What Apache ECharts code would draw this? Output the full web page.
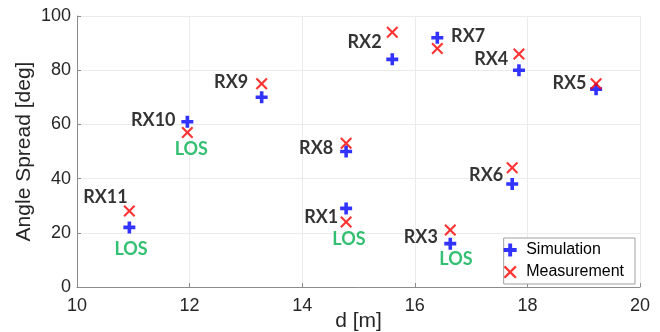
<!DOCTYPE html>
<html>
<head>
<meta charset="utf-8">
<script src="https://cdn.jsdelivr.net/npm/echarts@6/dist/echarts.min.js"></script>
<style>
html,body{margin:0;padding:0;background:#fff;}
#chart{width:660px;height:332px;}
</style>
</head>
<body>
<div id="chart"></div>
<script>
// ---- data ----
const receivers   = ['RX1','RX2','RX3','RX4','RX5','RX6','RX7','RX8','RX9','RX10','RX11'];
const distance    = [14.78, 15.6, 16.63, 17.85, 19.22, 17.73, 16.4, 14.78, 13.28, 11.96, 10.93];
const simulation  = [29, 84, 16, 80, 73, 38, 92, 50, 70, 61, 22];
const measurement = [24, 94, 21, 86, 75, 44, 88, 53, 75, 57, 28];
// text annotation anchors (data units): right edge / vertical centre of each RX label
const rxLabelX = [14.64, 15.41, 16.41, 17.66, 19.05, 17.57, 17.25, 14.55, 13.04, 11.75, 10.90];
const rxLabelY = [25.8, 90.5, 18.4, 83.9, 75.3, 41.4, 92.4, 51.4, 75.4, 61.6, 33.3];
// LOS annotations (centre, data units)
const losLabel = ['LOS','LOS','LOS','LOS'];
const losX = [14.83, 16.73, 12.03, 10.96];
const losY = [17.6, 10.3, 50.7, 13.9];
const xTicks = [10, 12, 14, 16, 18, 20];
const yTicks = [0, 20, 40, 60, 80, 100];

const PLUS = 'path://M4.2,0H7.8V4.2H12V7.8H7.8V12H4.2V7.8H0V4.2H4.2Z';
const CROSS = 'path://M0,1.5L1.5,0L6,4.5L10.5,0L12,1.5L7.5,6L12,10.5L10.5,12L6,7.5L1.5,12L0,10.5L4.5,6Z';

const chart = echarts.init(document.getElementById('chart'));
const axisFont = {fontFamily:'Liberation Sans', fontSize:18, color:'#262626'};
const labelFont = {fontFamily:'Lato', fontWeight:'bold', fontSize:18};

chart.setOption({
  animation:false,
  backgroundColor:'#fff',
  grid:{left:77, right:20, top:16, bottom:45, containLabel:false, outerBoundsMode:'none'},
  legend:{
    data:[{name:'Simulation', icon:PLUS},{name:'Measurement', icon:CROSS}],
    orient:'vertical', right:25, bottom:48,
    itemWidth:22, itemHeight:13, itemGap:6,
    padding:[4,11,4,0],
    backgroundColor:'#fff', borderColor:'#a0a0a0', borderWidth:1, borderRadius:0,
    textStyle:{fontFamily:'Liberation Sans', fontSize:16, color:'#000'}
  },
  xAxis:{
    type:'value', min:xTicks[0], max:xTicks[xTicks.length-1], interval:2,
    name:'d [m]', nameLocation:'middle', nameGap:24, nameMoveOverlap:false,
    nameTextStyle:{fontFamily:'Liberation Sans', fontSize:21, color:'#262626'},
    axisLine:{show:true, onZero:false, lineStyle:{color:'#8c8c8c', width:1}},
    axisTick:{show:true, inside:true, length:4, lineStyle:{color:'#8c8c8c'}},
    axisLabel:Object.assign({margin:10}, axisFont),
    splitLine:{show:true, lineStyle:{color:'#ebebeb', width:1}}
  },
  yAxis:{
    type:'value', min:yTicks[0], max:yTicks[yTicks.length-1], interval:20,
    name:'Angle Spread [deg]', nameLocation:'middle', nameGap:42, nameMoveOverlap:false,
    nameTextStyle:{fontFamily:'Liberation Sans', fontSize:21, color:'#262626'},
    axisLine:{show:true, onZero:false, lineStyle:{color:'#8c8c8c', width:1}},
    axisTick:{show:true, inside:true, length:4, lineStyle:{color:'#8c8c8c'}},
    axisLabel:Object.assign({margin:6}, axisFont),
    splitLine:{show:true, lineStyle:{color:'#ebebeb', width:1}}
  },
  series:[
    {
      name:'Simulation', type:'scatter', symbol:PLUS, symbolSize:12,
      itemStyle:{color:'#0000ff'}, z:3,
      data:distance.map((d,i)=>[d, simulation[i]])
    },
    {
      name:'Measurement', type:'scatter', symbol:CROSS, symbolSize:12,
      itemStyle:{color:'#ff0000'}, z:4,
      data:distance.map((d,i)=>[d, measurement[i]])
    },
    {
      name:'rxLabels', type:'scatter', symbol:'circle', symbolSize:1, silent:true,
      itemStyle:{color:'rgba(0,0,0,0)'}, z:5,
      label:Object.assign({show:true, position:'inside', align:'right', verticalAlign:'middle', color:'#000',
        formatter:p=>p.name}, labelFont),
      data:receivers.map((r,i)=>({name:r, value:[rxLabelX[i], rxLabelY[i]]}))
    },
    {
      name:'losLabels', type:'scatter', symbol:'circle', symbolSize:1, silent:true,
      itemStyle:{color:'rgba(0,0,0,0)'}, z:5,
      label:Object.assign({show:true, position:'inside', align:'center', verticalAlign:'middle', color:'#00b050',
        formatter:p=>p.name}, labelFont),
      data:losLabel.map((t,i)=>({name:t, value:[losX[i], losY[i]]}))
    }
  ]
});
</script>
</body>
</html>
